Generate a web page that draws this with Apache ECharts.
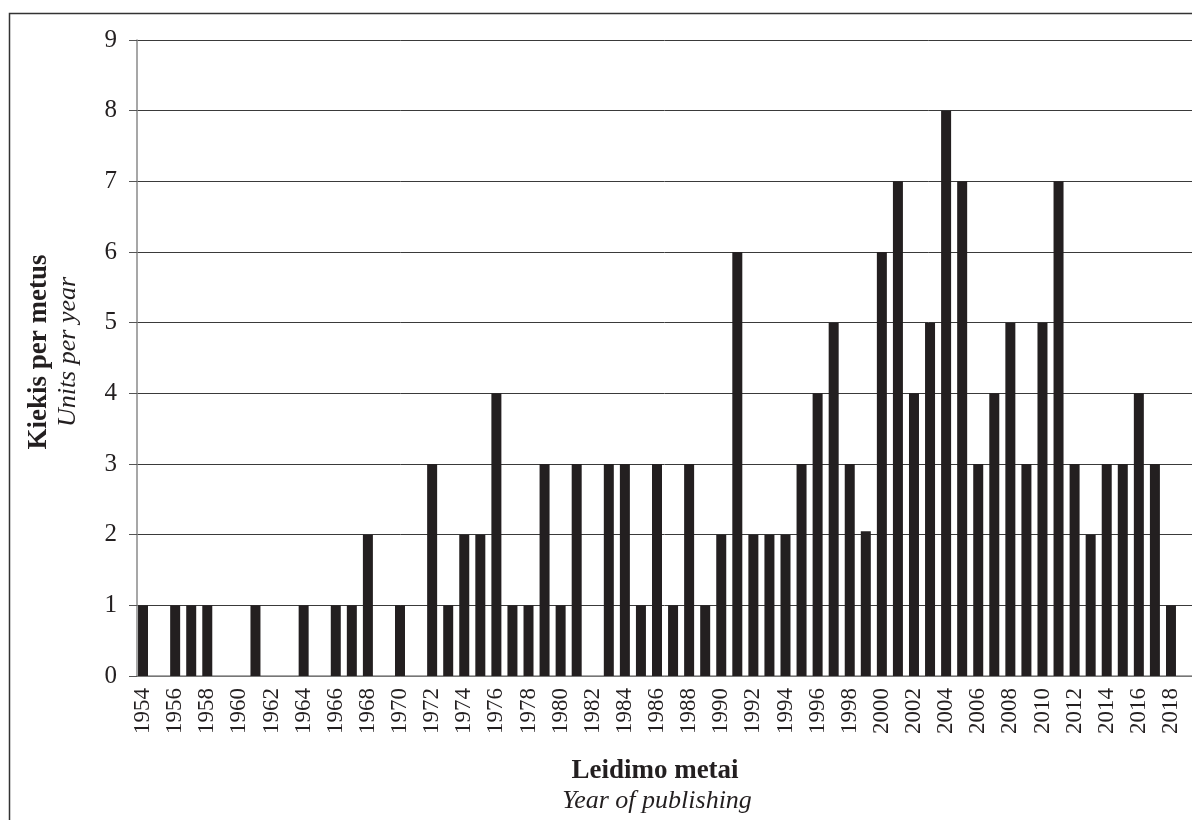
<!DOCTYPE html>
<html>
<head>
<meta charset="utf-8">
<script src="https://cdn.jsdelivr.net/npm/echarts@6/dist/echarts.min.js"></script>
<style>
  html, body { margin: 0; padding: 0; background: #fff; }
  #chart { width: 1192px; height: 820px; }
</style>
</head>
<body>
<div id="chart"></div>
<script>
// years of publishing, 1954 - 2018
const years = [];
for (let y = 1954; y <= 2018; y++) years.push(String(y));

// units per year
const units = [
  1, 0, 1, 1, 1, 0, 0, 1, 0, 0,   // 1954-1963
  1, 0, 1, 1, 2, 0, 1, 0, 3, 1,   // 1964-1973
  2, 2, 4, 1, 1, 3, 1, 3, 0, 3,   // 1974-1983
  3, 1, 3, 1, 3, 1, 2, 6, 2, 2,   // 1984-1993
  2, 3, 4, 5, 3, 2.05, 6, 7, 4, 5, // 1994-2003
  8, 7, 3, 4, 5, 3, 5, 7, 3, 2,   // 2004-2013
  3, 3, 4, 3, 1                   // 2014-2018
];

const yTitle = ['Kiekis per metus', 'Units per year'];
const xTitle = ['Leidimo metai', 'Year of publishing'];

const ink = '#231f20';
const serif = '"Liberation Serif", "DejaVu Serif", serif';

let chart = echarts.init(document.getElementById('chart'));

let option = {
  animation: false,
  textStyle: { fontFamily: serif, color: ink },
  grid: [
    // bars
    { left: 135, top: 40, width: 1044, bottom: 144 },
    // the frame with gridlines, runs to the right edge
    { left: 137, top: 40, right: 0, bottom: 144 }
  ],
  xAxis: [
    {
      type: 'category',
      gridIndex: 0,
      data: years,
      axisLine: { show: false },
      axisTick: { show: false },
      axisLabel: {
        interval: 1,
        rotate: 90,
        margin: 12,
        fontSize: 23,
        fontFamily: serif,
        color: ink
      }
    },
    {
      type: 'value',
      gridIndex: 1,
      min: 0,
      max: 1,
      axisLine: { show: true, lineStyle: { color: '#8a8a8a', width: 1.5 } },
      axisTick: { show: false },
      axisLabel: { show: false },
      splitLine: { show: false }
    }
  ],
  yAxis: [
    {
      type: 'value',
      gridIndex: 0,
      min: 0,
      max: 9,
      interval: 1,
      show: false,
      splitLine: { show: false }
    },
    {
      type: 'value',
      gridIndex: 1,
      min: 0,
      max: 9,
      interval: 1,
      axisLine: { show: true, lineStyle: { color: '#8a8a8a', width: 1.5 } },
      axisTick: { show: true, length: 8, lineStyle: { color: '#555' } },
      axisLabel: { margin: 20, fontSize: 25, fontFamily: serif, color: ink },
      splitLine: { show: true, lineStyle: { color: '#3a3a3a', width: 1 } }
    }
  ],
  series: [
    {
      type: 'bar',
      xAxisIndex: 0,
      yAxisIndex: 0,
      data: units,
      barWidth: 10,
      itemStyle: { color: ink }
    }
  ],
  graphic: [
    // outer frame (cropped at right and bottom)
    {
      type: 'rect',
      shape: { x: 9.5, y: 13.5, width: 1300, height: 900 },
      style: { fill: 'none', stroke: '#333', lineWidth: 1.5 },
      silent: true
    },
    {
      type: 'text',
      x: 39, y: 352, rotation: Math.PI / 2,
      style: {
        text: yTitle[0], fontSize: 27, fontWeight: 'bold', fontFamily: serif,
        fill: ink, align: 'center', verticalAlign: 'middle'
      }
    },
    {
      type: 'text',
      x: 68, y: 352, rotation: Math.PI / 2,
      style: {
        text: yTitle[1], fontSize: 26, fontStyle: 'italic', fontFamily: serif,
        fill: ink, align: 'center', verticalAlign: 'middle'
      }
    },
    {
      type: 'text',
      x: 655, y: 771,
      style: {
        text: xTitle[0], fontSize: 27, fontWeight: 'bold', fontFamily: serif,
        fill: ink, align: 'center', verticalAlign: 'middle'
      }
    },
    {
      type: 'text',
      x: 657, y: 801,
      style: {
        text: xTitle[1], fontSize: 26, fontStyle: 'italic', fontFamily: serif,
        fill: ink, align: 'center', verticalAlign: 'middle'
      }
    }
  ]
};

chart.setOption(option);
</script>
</body>
</html>
